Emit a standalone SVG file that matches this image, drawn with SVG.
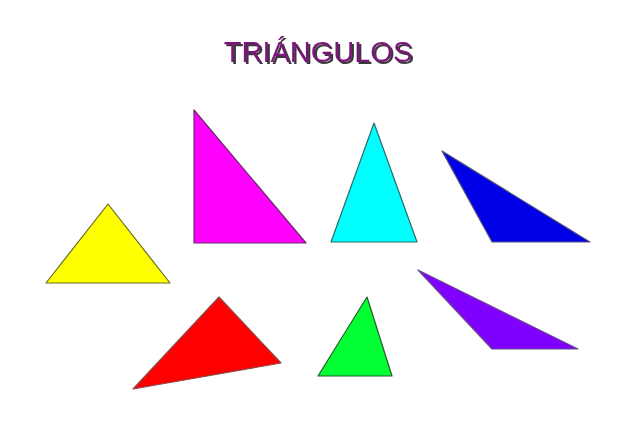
<svg xmlns="http://www.w3.org/2000/svg" width="638" height="426" viewBox="0 0 638 426">
<defs>
<filter id="sh" x="-10%" y="-30%" width="120%" height="160%">
<feDropShadow dx="2" dy="2" stdDeviation="0.6" flood-color="#222222" flood-opacity="0.9"/>
</filter>
</defs>
<style>
.t{font-family:"Liberation Sans",Arial,sans-serif;font-size:29px;text-anchor:middle}
.tri{stroke-width:1.2;stroke-linejoin:round}
</style>
<rect width="638" height="426" fill="#ffffff"/>
<g id="title">
<text class="t" x="318" y="62" fill="#7a1478" filter="url(#sh)">TRIÁNGULOS</text>
</g>
<g id="yellow"><polygon class="tri" points="108,204 46,283 170,283" fill="#ffff00" stroke="#6b6b20"/></g>
<g id="magenta"><polygon class="tri" points="194,110 194,243 306,243" fill="#ff00ff" stroke="#6a2a6a"/></g>
<g id="cyan"><polygon class="tri" points="374,123 331,242 417,242" fill="#00ffff" stroke="#2a6a6a"/></g>
<g id="blue"><polygon class="tri" points="442,151 492,242 590,242" fill="#0000e6" stroke="#555577"/></g>
<g id="red"><polygon class="tri" points="219,297 133,389 281,363" fill="#ff0000" stroke="#8a4a4a"/></g>
<g id="green"><polygon class="tri" points="367,297 318,376 392,376" fill="#00ff33" stroke="#2a5a2a"/></g>
<g id="purple"><polygon class="tri" points="418,270 492,349 578,349" fill="#7f00ff" stroke="#6a4a8a"/></g>
</svg>
